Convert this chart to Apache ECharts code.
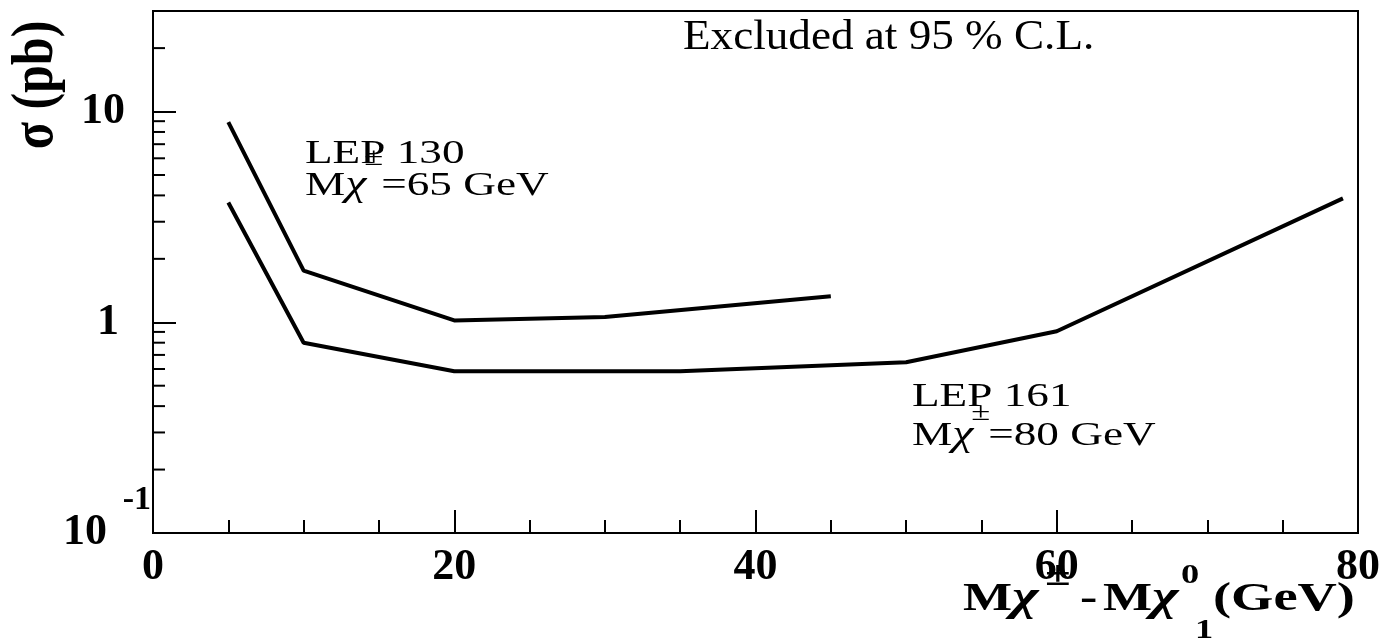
<!DOCTYPE html>
<html>
<head>
<meta charset="utf-8">
<script src="https://cdn.jsdelivr.net/npm/echarts@6/dist/echarts.min.js"></script>
<style>
  html, body { margin: 0; padding: 0; background: #ffffff; }
  #chart { width: 1393px; height: 643px; }
</style>
</head>
<body>
<div id="chart"></div>
<script>
// Cross-section limits (pb) versus the chargino-neutralino mass difference (GeV)
const massDiff130 = [5, 10, 20, 30, 45];
const sigma130    = [8.9, 1.76, 1.02, 1.06, 1.33];
const massDiff161 = [5, 10, 20, 35, 50, 60, 79];
const sigma161    = [3.7, 0.80, 0.586, 0.586, 0.646, 0.906, 3.87];

// Axis ticks
const xTickValues  = [0, 20, 40, 60, 80];
const yMajorTicks  = [0.1, 1, 10];
const yMinorTicks  = [0.2, 0.3, 0.4, 0.5, 0.6, 0.7, 0.8, 0.9, 2, 3, 4, 5, 6, 7, 8, 9, 20];

const SERIF = "'Liberation Serif', 'Times New Roman', 'DejaVu Serif', serif";
const INK = '#000000';

const chart = echarts.init(document.getElementById('chart'), null, { renderer: 'canvas' });

const measureCtx = document.createElement('canvas').getContext('2d');
function textWidth(str, size, weight, style) {
  measureCtx.font = (style || 'normal') + ' ' + (weight || 'normal') + ' ' + size + 'px ' + SERIF;
  return measureCtx.measureText(str).width;
}

// A line of text built from runs; each run may be raised or lowered and
// sized on its own. Baseline-anchored: zrender draws with a middle baseline,
// so the centre sits 0.3375 em above the baseline for this face.
function textRuns(x0, baseline, runs, base) {
  const out = [];
  let x = x0;
  runs.forEach(r => {
    const size = r.size || base.size;
    const weight = r.weight || base.weight || 'normal';
    const fstyle = r.italic ? 'italic' : 'normal';
    const sx = r.scaleX || base.scaleX || 1;
    const xs = (r.x != null) ? r.x : x + (r.dx || 0);
    const b = baseline - (r.rise || 0);
    out.push({
      type: 'text',
      x: xs,
      y: b - 0.3375 * size,
      scaleX: sx,
      silent: true,
      style: {
        text: r.t,
        fontFamily: SERIF,
        fontSize: size,
        fontWeight: weight,
        fontStyle: fstyle,
        fill: INK,
        align: 'left',
        verticalAlign: 'middle'
      }
    });
    x = xs + textWidth(r.t, size, weight, fstyle) * sx;
  });
  return out;
}

const annFont = { size: 34, scaleX: 1.33 };

function buildGraphics() {
  const g = [];
  // Plot caption
  g.push(...textRuns(683, 52, [{ t: 'Excluded at 95 % C.L.' }], { size: 43, scaleX: 1.05 }));
  // Curve labels
  g.push(...textRuns(305, 166, [{ t: 'LEP 130' }], annFont));
  g.push(...textRuns(305, 198, [
    { t: 'M' },
    { t: '\u03c7', italic: true, size: 36 },
    { t: '\u00b1', size: 26, rise: 31, dx: -2 },
    { t: '=65 GeV', dx: -2 }
  ], annFont));
  g.push(...textRuns(912, 409, [{ t: 'LEP 161' }], annFont));
  g.push(...textRuns(912, 448, [
    { t: 'M' },
    { t: '\u03c7', italic: true, size: 36 },
    { t: '\u00b1', size: 26, rise: 26, dx: -2 },
    { t: '=80 GeV', dx: -2 }
  ], annFont));

  // x-axis title
  const xt = { size: 40, weight: 'bold', scaleX: 1.3 };
  g.push(...textRuns(963, 613, [
    { t: 'M', x: 963 },
    { t: '\u03c7', italic: true, size: 44 },
    { t: '\u00b1', x: 1045, size: 36, rise: 25 },
    { t: '-', x: 1080 },
    { t: 'M', x: 1103 },
    { t: '\u03c7', italic: true, size: 44 },
    { t: '0', x: 1181, size: 28, rise: 28 },
    { t: '1', x: 1195, size: 28, rise: -27 },
    { t: '(GeV)', x: 1213, scaleX: 1.36 }
  ], xt));

  // y-axis title, rotated to read upward
  g.push({
    type: 'text',
    x: 36,
    y: 85,
    rotation: Math.PI / 2,
    scaleY: 1.2,
    silent: true,
    style: {
      text: '\u03c3 (pb)',
      fontFamily: SERIF,
      fontSize: 50,
      fontWeight: 'bold',
      fill: INK,
      align: 'center',
      verticalAlign: 'middle'
    }
  });

  // exponent of the 10^-1 tick label
  const yTenth = chart.convertToPixel({ yAxisIndex: 0 }, yMajorTicks[0]);
  g.push({
    type: 'text',
    x: 151,
    y: yTenth - 33,
    silent: true,
    style: {
      text: '-1',
      fontFamily: SERIF,
      fontSize: 34,
      fontWeight: 'bold',
      fill: INK,
      align: 'right',
      verticalAlign: 'middle'
    }
  });
  return g;
}

const option = {
  animation: false,
  backgroundColor: '#ffffff',
  grid: {
    left: 153, right: 35, top: 11, bottom: 110,
    show: true, borderColor: INK, borderWidth: 2,
    backgroundColor: 'transparent'
  },
  xAxis: {
    type: 'value',
    min: xTickValues[0],
    max: xTickValues[xTickValues.length - 1],
    interval: xTickValues[1] - xTickValues[0],
    axisLine: { show: true, onZero: false, lineStyle: { color: INK, width: 2 } },
    axisTick: { show: true, inside: true, length: 23, lineStyle: { color: INK, width: 2 } },
    minorTick: { show: true, splitNumber: 4, length: 13, lineStyle: { color: INK, width: 2 } },
    splitLine: { show: false },
    axisLabel: {
      margin: 13,
      color: INK,
      fontFamily: SERIF,
      fontSize: 44,
      fontWeight: 'bold'
    }
  },
  yAxis: {
    type: 'log',
    logBase: 10,
    min: 0.1,
    max: 30,
    axisLine: { show: true, onZero: false, lineStyle: { color: INK, width: 2 } },
    axisTick: { show: true, inside: true, length: 23, lineStyle: { color: INK, width: 2 } },
    splitLine: { show: false },
    axisLabel: {
      margin: 3,
      color: INK,
      fontFamily: SERIF,
      fontSize: 44,
      fontWeight: 'bold',
      formatter: function (v) {
        if (Math.abs(v - 10) < 1e-6) return '{ten|10}';
        if (Math.abs(v - 1) < 1e-6) return '{one|1}';
        if (Math.abs(v - 0.1) < 1e-6) return '{tenth|10}';
        return '';
      },
      rich: {
        ten:   { fontFamily: SERIF, fontSize: 44, fontWeight: 'bold', color: INK, padding: [0, 25, 0, 0] },
        one:   { fontFamily: SERIF, fontSize: 44, fontWeight: 'bold', color: INK, padding: [0, 31, 0, 0] },
        tenth: { fontFamily: SERIF, fontSize: 44, fontWeight: 'bold', color: INK, padding: [0, 43, 0, 0] }
      }
    }
  },
  series: [
    {
      name: 'LEP 130',
      type: 'line',
      data: massDiff130.map((x, i) => [x, sigma130[i]]),
      showSymbol: false,
      symbol: 'none',
      lineStyle: { color: INK, width: 4 },
      z: 5
    },
    {
      name: 'LEP 161',
      type: 'line',
      data: massDiff161.map((x, i) => [x, sigma161[i]]),
      showSymbol: false,
      symbol: 'none',
      lineStyle: { color: INK, width: 4 },
      z: 5
    },
    {
      // minor ticks of the logarithmic axis (2..9 per decade)
      name: 'yMinorTicks',
      type: 'custom',
      silent: true,
      clip: false,
      data: yMinorTicks.map(v => [xTickValues[0], v]),
      renderItem: function (params, api) {
        const p = api.coord([api.value(0), api.value(1)]);
        return {
          type: 'line',
          shape: { x1: p[0], y1: p[1], x2: p[0] + 12, y2: p[1] },
          style: { stroke: INK, lineWidth: 2 }
        };
      },
      z: 4
    }
  ]
};

chart.setOption(option);
chart.setOption({ graphic: buildGraphics() });
</script>
</body>
</html>
